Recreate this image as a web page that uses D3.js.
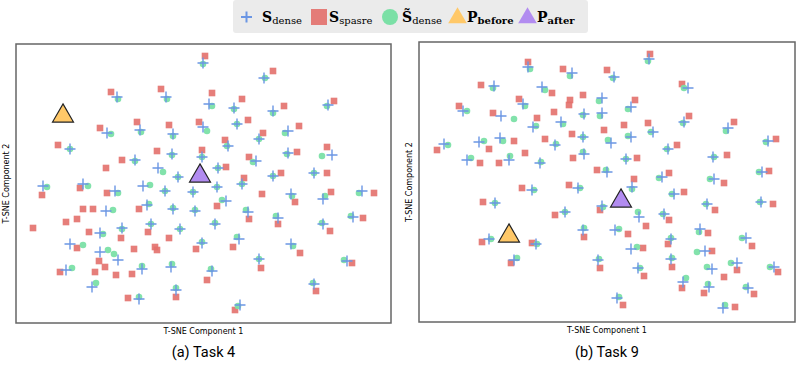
<!DOCTYPE html>
<html>
<head>
<meta charset="utf-8">
<script src="https://d3js.org/d3.v7.min.js"></script>
<style>
body { margin: 0; background: #fff; }
text { font-family: "DejaVu Sans", sans-serif; }
</style>
</head>
<body>
<div id="chart"></div>
<script>
// t-SNE embeddings
var denseA = [[-17.3,17.3],[-7.5,17.3],[-12.7,10.7],[-19.3,10.1],[-6.1,9.9],[-26.7,6.9],[-6.3,5.9],[-13.7,4.7],[-9.1,3.1],[-5.1,1.3],
  [-32.1,-0.5],[-24.1,-0.1],[-12.1,-0.5],[-0.1,24.1],[12.1,21.1],[1.1,15.9],[6.1,15.1],[13.9,14.5],[24.9,15.7],[6.7,11.9],
  [-0.1,11.3],[11.1,8.9],[16.9,10.5],[4.9,7.5],[-0.3,5.3],[10.5,4.5],[16.9,6.1],[25.7,5.7],[2.9,3.1],[13.9,1.5],
  [22.1,2.1],[7.7,-0.1],[2.7,-0.7],[31.7,-1.5],[-17.7,-1.5],[-7.7,-1.5],[-2.1,-1.7],[-19.5,-5.5],[-11.3,-4.3],[-6.1,-5.1],
  [-1.7,-5.5],[-20.7,-9.9],[-16.3,-8.9],[-10.5,-8.1],[-4.7,-9.1],[-26.7,-12.1],[-20.7,-13.7],[-17.1,-15.3],[-27.5,-17.3],[-12.3,-17.1],
  [-6.5,-16.7],[-22.3,-20.7],[-5.5,-21.3],[-12.9,-23.1],[17.5,-2.1],[23.9,-3.1],[4.5,-3.5],[8.9,-5.7],[14.9,-6.9],[23.9,-8.1],
  [29.9,-6.7],[2.3,-8.1],[-0.3,-11.9],[7.1,-11.1],[17.5,-12.1],[11.1,-15.1],[28.7,-15.5],[1.7,-17.5],[22.1,-20.1],[7.3,-24.3]];

var tildeA = [[-17.1,16.9],[-7.3,16.9],[-12.5,10.3],[-18.5,9.9],[-6.1,9.5],[-26.7,6.9],[-6.3,5.7],[-13.7,4.5],[-8.1,2.3],[-5.1,1.3],
  [-31.3,-0.7],[-23.1,-0.5],[-10.7,-0.3],[-0.1,23.9],[12.3,21.1],[1.7,15.5],[6.1,14.9],[13.9,14.1],[24.7,15.5],[6.7,11.9],
  [0.7,10.5],[11.1,8.9],[16.3,10.1],[4.7,7.5],[-0.3,5.3],[9.9,4.3],[16.7,5.9],[23.7,5.5],[2.9,3.1],[13.9,1.5],
  [22.1,2.1],[7.7,-0.1],[2.7,-0.7],[31.1,-1.9],[-17.1,-1.9],[-7.7,-1.5],[-2.1,-1.7],[-18.1,-5.3],[-10.9,-4.1],[-6.1,-4.9],
  [-1.7,-5.3],[-20.1,-10.1],[-16.3,-9.1],[-10.5,-8.1],[-4.7,-9.1],[-24.1,-12.3],[-19.1,-13.3],[-17.9,-14.1],[-26.3,-16.9],[-12.3,-16.5],
  [-6.3,-16.1],[-21.5,-19.9],[-5.5,-20.9],[-12.9,-22.7],[17.7,-2.5],[24.3,-2.5],[3.7,-3.3],[8.5,-5.3],[14.5,-6.5],[23.7,-7.9],
  [29.5,-6.5],[2.3,-7.9],[-0.3,-11.7],[6.7,-10.7],[17.9,-12.5],[11.1,-15.1],[28.1,-15.3],[1.5,-17.1],[21.9,-19.9],[6.9,-24.5]];

var sparseA = [[-18.5,18.3],[-8.5,18.9],[-13.3,12.3],[-20.7,11.1],[-6.9,11.7],[-0.9,12.3],[-29.1,7.7],[-9.3,6.5],[-16.3,4.7],[-19.5,3.1],
  [-24.7,-0.9],[0.3,25.5],[13.9,22.5],[1.7,18.1],[7.7,16.9],[16.1,15.5],[26.1,16.5],[8.9,12.7],[11.9,10.1],[19.1,11.5],
  [4.3,8.7],[-0.3,6.7],[9.1,5.3],[18.7,6.3],[24.7,7.3],[4.5,3.3],[15.5,2.1],[24.7,2.1],[8.1,1.1],[-32.3,-2.3],
  [-19.3,-1.9],[-24.1,-5.1],[-22.1,-5.1],[-12.9,-5.1],[-27.5,-7.7],[-25.3,-7.1],[-34.1,-8.9],[-22.9,-9.7],[-16.5,-10.9],[-11.1,-9.7],
  [-6.9,-10.9],[-25.3,-12.9],[-13.9,-13.1],[-9.7,-12.7],[-9.3,-13.3],[-1.5,-13.1],[-20.9,-15.5],[-19.7,-16.7],[-28.7,-17.7],[-21.7,-17.7],
  [-17.5,-18.3],[-14.3,-18.1],[-5.5,-22.7],[-15.1,-22.9],[11.7,-2.1],[18.3,-3.7],[25.5,-1.7],[34.1,-1.9],[2.7,-4.5],[9.1,-7.1],
  [14.9,-8.1],[25.3,-9.5],[31.9,-6.9],[5.9,-12.7],[19.3,-13.9],[11.5,-16.9],[29.7,-15.9],[0.7,-19.3],[22.5,-21.5],[6.3,-25.3]];

var beforeA = [-28.1, 13.7];
var afterA = [-0.7, 1.7];

var denseB = [[-15.8,23.0],[-7.0,21.8],[-22.6,19.2],[-13.0,19.0],[-16.8,15.6],[-1.0,16.8],[-28.8,14.2],[-21.2,13.2],[-14.8,11.0],[-9.2,12.0],
  [-4.6,13.6],[-1.0,13.8],[-4.8,9.0],[-32.6,7.6],[-25.6,8.0],[-21.4,8.8],[-10.4,7.4],[-28.0,4.4],[-19.6,4.4],[-13.4,3.8],
  [-4.6,5.6],[0.0,2.0],[8.4,24.6],[1.4,21.0],[16.2,18.8],[4.8,15.0],[15.4,12.0],[24.2,10.8],[9.2,10.0],[4.8,9.0],
  [0.8,7.8],[12.2,6.6],[32.2,8.2],[3.8,4.6],[21.2,5.0],[11.0,1.0],[31.0,2.0],[21.4,0.6],[-15.0,-1.6],[-5.8,-1.2],
  [-22.4,-4.2],[-8.4,-6.0],[-1.0,-4.8],[-23.6,-11.4],[-14.2,-12.4],[-4.8,-9.6],[-18.6,-15.6],[-1.8,-15.6],[5.0,-1.0],[13.4,-2.4],
  [20.0,-4.4],[30.8,-4.0],[6.4,-7.0],[11.4,-6.4],[1.6,-9.6],[18.6,-9.4],[27.8,-11.2],[4.8,-13.4],[12.8,-11.4],[19.6,-13.8],
  [12.8,-15.4],[26.0,-16.2],[33.4,-17.0],[6.2,-17.2],[21.0,-17.4],[15.2,-20.0],[20.4,-21.0],[28.2,-21.2],[2.0,-23.2],[23.2,-25.2]];

var tildeB = [[-15.4,22.6],[-7.4,21.2],[-22.8,18.8],[-12.4,18.4],[-16.4,15.2],[-1.6,16.2],[-28.0,14.2],[-18.6,12.6],[-14.2,11.2],[-8.8,11.6],
  [-4.8,13.4],[-1.4,13.2],[-4.8,9.0],[-31.8,7.4],[-24.6,8.2],[-20.8,8.2],[-10.2,7.6],[-27.2,4.8],[-19.4,5.2],[-13.2,4.0],
  [-4.8,6.0],[-0.2,2.4],[8.2,24.2],[1.2,20.8],[15.4,18.8],[4.2,14.6],[15.2,11.8],[23.8,10.2],[8.8,10.0],[4.2,9.2],
  [0.2,8.4],[12.0,6.6],[31.8,8.0],[3.8,4.6],[21.4,5.0],[10.4,0.8],[30.4,2.0],[20.6,0.6],[-14.6,-1.6],[-5.4,-1.2],
  [-22.4,-4.2],[-8.4,-6.0],[-0.8,-5.0],[-23.2,-11.4],[-14.0,-12.4],[-4.6,-9.2],[-18.0,-15.2],[-1.6,-15.4],[5.0,-1.4],[13.0,-2.4],
  [19.8,-4.4],[30.6,-4.0],[6.2,-6.0],[11.2,-6.4],[2.4,-9.4],[18.4,-10.0],[27.0,-11.2],[6.0,-13.0],[12.8,-11.2],[18.0,-14.0],
  [13.0,-15.2],[24.8,-16.2],[32.6,-17.0],[6.6,-17.2],[20.0,-17.0],[15.8,-19.2],[20.2,-20.4],[27.8,-21.0],[2.4,-23.0],[23.6,-24.6]];

var sparseB = [[-15.8,24.0],[-8.8,22.6],[0.0,22.4],[-25.2,19.4],[-11.0,17.8],[-17.6,16.6],[-7.4,16.4],[-7.6,15.4],[-4.8,17.4],[-29.6,15.2],
  [-22.8,13.8],[-14.0,12.8],[-10.6,14.0],[-0.6,10.4],[-7.0,9.6],[-34.0,6.4],[-23.6,6.6],[-18.6,8.2],[-12.4,8.6],[-16.4,5.8],
  [-25.4,3.8],[-21.6,3.8],[-6.8,4.8],[-2.0,2.4],[-7.6,-0.6],[8.6,25.6],[15.0,19.6],[5.6,16.4],[16.4,13.2],[25.4,12.0],
  [3.4,11.4],[8.2,11.8],[14.0,7.4],[33.8,8.6],[6.0,4.8],[24.0,5.4],[12.4,1.8],[32.4,2.2],[23.4,-0.2],[5.4,0.6],
  [-17.0,-1.2],[-24.8,-4.0],[-10.4,-6.6],[-1.4,-5.6],[-25.0,-12.0],[-15.0,-12.2],[-4.6,-11.0],[-19.2,-16.2],[-1.4,-17.2],[15.4,-2.0],
  [21.6,-5.6],[33.2,-4.4],[7.8,-8.8],[12.4,-7.6],[4.2,-10.4],[20.2,-10.2],[29.0,-12.8],[7.2,-13.2],[12.2,-12.4],[21.0,-13.8],
  [13.0,-17.0],[26.0,-17.6],[34.2,-18.0],[7.4,-18.8],[23.4,-19.0],[15.0,-21.2],[19.4,-22.2],[29.4,-22.4],[3.2,-24.6],[25.6,-25.0]];

var beforeB = [-19.6, -10.6];
var afterB = [2.8, -3.6];

var captions = ["(a) Task 4", "(b) Task 9"];
var xLabel = "T-SNE Component 1";
var yLabel = "T-SNE Component 2";

var colDense = "#6b96e4", colSparse = "#e3706b", colTilde = "#7be0a6",
    colBefore = "#ffc868", colAfter = "#b28cf0";

var width = 797, height = 371;

var svg = d3.select("#chart").append("svg")
  .attr("width", width)
  .attr("height", height);

// legend
var leg = svg.append("g");
leg.append("rect")
  .attr("x", 233).attr("y", 0)
  .attr("width", 355).attr("height", 33)
  .attr("rx", 3)
  .attr("fill", "#ebebeb");

var cy = 17;
leg.append("path")
  .attr("d", "M241," + cy + "h11M246.5," + (cy - 5.5) + "v11")
  .attr("stroke", colDense).attr("stroke-width", 2).attr("fill", "none");
leg.append("rect").attr("x", 311).attr("y", cy - 8).attr("width", 16).attr("height", 16)
  .attr("fill", colSparse).attr("opacity", 0.9);
leg.append("circle").attr("cx", 390).attr("cy", cy).attr("r", 8).attr("fill", colTilde);
leg.append("path").attr("d", d3.symbol(d3.symbolTriangle, 150)())
  .attr("transform", "translate(457.5," + (cy + 1) + ")").attr("fill", colBefore);
leg.append("path").attr("d", d3.symbol(d3.symbolTriangle, 150)())
  .attr("transform", "translate(527.5," + (cy + 1) + ")").attr("fill", colAfter);

function legText(x, main, sub, subBold) {
  var t = leg.append("text")
    .attr("x", x).attr("y", 22)
    .style("font-family", "'DejaVu Serif', serif")
    .style("font-size", "14px")
    .attr("fill", "#000");
  t.append("tspan").style("font-weight", "bold").text(main);
  t.append("tspan").attr("dy", 2)
    .style("font-size", "10px")
    .style("font-weight", subBold ? "bold" : "normal")
    .text(sub);
}
legText(262, "S", "dense", false);
legText(329, "S", "spasre", false);
legText(402, "S\u0303", "dense", false);
legText(467, "P", "before", true);
legText(537, "P", "after", true);

// panels
var panels = [
  {x0: 16, x1: 391, y0: 44, y1: 323, dense: denseA, sparse: sparseA, tilde: tildeA, before: beforeA, after: afterA, cap: captions[0]},
  {x0: 419, x1: 795, y0: 42, y1: 322, dense: denseB, sparse: sparseB, tilde: tildeB, before: beforeB, after: afterB, cap: captions[1]}
];

panels.forEach(function(p) {
  var x = d3.scaleLinear()
    .domain([-(p.x1 - p.x0) / 10, (p.x1 - p.x0) / 10])
    .range([p.x0, p.x1]);
  var y = d3.scaleLinear()
    .domain([-(p.y1 - p.y0) / 10, (p.y1 - p.y0) / 10])
    .range([p.y1, p.y0]);

  var g = svg.append("g");

  // frame
  g.append("rect")
    .attr("x", p.x0).attr("y", p.y0)
    .attr("width", p.x1 - p.x0).attr("height", p.y1 - p.y0)
    .attr("fill", "#fff")
    .attr("stroke", "#666").attr("stroke-width", 1.5);

  // sparse squares
  g.selectAll(".sq").data(p.sparse).enter().append("rect")
    .attr("x", function(d) { return x(d[0]) - 3.3; })
    .attr("y", function(d) { return y(d[1]) - 3.3; })
    .attr("width", 6.6).attr("height", 6.6)
    .attr("fill", colSparse).attr("opacity", 0.9);

  // reconstructed dense circles
  g.selectAll(".ci").data(p.tilde).enter().append("circle")
    .attr("cx", function(d) { return x(d[0]); })
    .attr("cy", function(d) { return y(d[1]); })
    .attr("r", 3.3)
    .attr("fill", colTilde).attr("opacity", 0.95);

  // dense crosses
  g.selectAll(".cr").data(p.dense).enter().append("path")
    .attr("d", function(d) {
      var cx = x(d[0]), cyy = y(d[1]);
      return "M" + (cx - 5.5) + "," + cyy + "h11M" + cx + "," + (cyy - 5.5) + "v11";
    })
    .attr("stroke", colDense).attr("stroke-width", 1.4).attr("fill", "none");

  // prototypes
  [[p.before, colBefore], [p.after, colAfter]].forEach(function(t) {
    g.append("path")
      .attr("d", d3.symbol(d3.symbolTriangle, 190)())
      .attr("transform", "translate(" + x(t[0][0]) + "," + (y(t[0][1]) + 1) + ")")
      .attr("fill", t[1])
      .attr("stroke", "#222").attr("stroke-width", 1.2);
  });

  // axis labels
  g.append("text")
    .attr("x", (p.x0 + p.x1) / 2).attr("y", p.y1 + 11)
    .attr("text-anchor", "middle")
    .style("font-size", "8px")
    .text(xLabel);
  g.append("text")
    .attr("transform", "translate(" + (p.x0 - 7) + "," + ((p.y0 + p.y1) / 2) + ") rotate(-90)")
    .attr("text-anchor", "middle")
    .style("font-size", "8px")
    .text(yLabel);

  // caption
  g.append("text")
    .attr("x", (p.x0 + p.x1) / 2).attr("y", 357)
    .attr("text-anchor", "middle")
    .style("font-family", "Roboto, sans-serif")
    .style("font-size", "14.5px")
    .text(p.cap);
});
</script>
</body>
</html>
